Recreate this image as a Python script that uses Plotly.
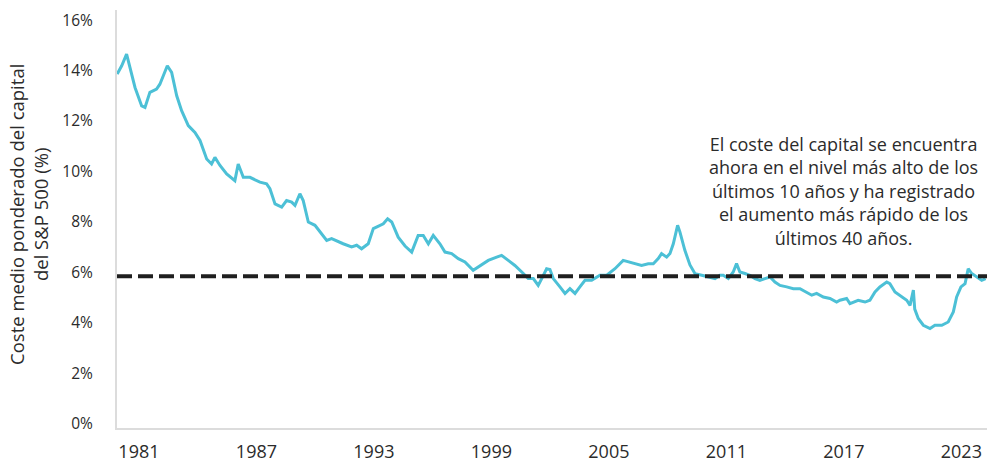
import plotly.graph_objects as go

# decimal year and weighted average cost of capital (%)
years = [
    1979.89, 1980.12, 1980.37, 1980.54, 1980.80, 1981.14, 1981.31, 1981.56, 1981.90, 1982.07,
    1982.45, 1982.67, 1982.93, 1983.18, 1983.52, 1983.86, 1984.12, 1984.46, 1984.71, 1984.88,
    1985.14, 1985.48, 1985.90, 1986.07, 1986.33, 1986.67, 1987.18, 1987.52, 1987.69, 1987.95,
    1988.29, 1988.54, 1988.80, 1988.97, 1989.22, 1989.39, 1989.65, 1989.99, 1990.33, 1990.59,
    1990.84, 1991.18, 1991.43, 1991.86, 1992.12, 1992.37, 1992.71, 1992.97, 1993.31, 1993.48,
    1993.70, 1993.91, 1994.24, 1994.59, 1994.93, 1995.26, 1995.52, 1995.78, 1996.03, 1996.37,
    1996.63, 1996.97, 1997.31, 1997.65, 1998.07, 1998.42, 1998.84, 1999.27, 1999.52, 1999.86,
    2000.20, 2000.63, 2000.88, 2001.14, 2001.39, 2001.57, 2001.82, 2001.99, 2002.16, 2002.50,
    2002.76, 2003.01, 2003.27, 2003.52, 2003.78, 2004.12, 2004.54, 2004.89, 2005.31, 2005.73,
    2005.99, 2006.24, 2006.67, 2007.01, 2007.27, 2007.52, 2007.69, 2007.95, 2008.12, 2008.29,
    2008.51, 2008.63, 2008.88, 2009.14, 2009.40, 2009.74, 2010.07, 2010.42, 2010.67, 2010.84,
    2011.10, 2011.35, 2011.52, 2011.69, 2011.95, 2012.20, 2012.46, 2012.71, 2012.97, 2013.23,
    2013.48, 2013.74, 2014.08, 2014.42, 2014.76, 2015.10, 2015.36, 2015.61, 2015.95, 2016.29,
    2016.63, 2016.80, 2017.14, 2017.31, 2017.48, 2017.73, 2018.08, 2018.33, 2018.59, 2018.84,
    2019.19, 2019.35, 2019.61, 2019.95, 2020.21, 2020.38, 2020.55, 2020.62, 2020.80, 2021.06,
    2021.40, 2021.65, 2022.00, 2022.33, 2022.59, 2022.76, 2022.98, 2023.19, 2023.35, 2023.53,
    2023.78, 2024.04, 2024.24,
]
wacc = [
    13.86, 14.19, 14.65, 14.12, 13.33, 12.60, 12.54, 13.14, 13.27, 13.46,
    14.19, 13.93, 13.00, 12.41, 11.82, 11.55, 11.23, 10.50, 10.30, 10.56,
    10.24, 9.91, 9.64, 10.30, 9.77, 9.77, 9.58, 9.51, 9.32, 8.72,
    8.59, 8.85, 8.79, 8.66, 9.12, 8.85, 8.00, 7.87, 7.54, 7.27,
    7.34, 7.21, 7.14, 7.01, 7.08, 6.94, 7.14, 7.74, 7.87, 7.93,
    8.13, 8.00, 7.40, 7.05, 6.81, 7.47, 7.47, 7.14, 7.47, 7.14,
    6.81, 6.75, 6.55, 6.42, 6.09, 6.28, 6.48, 6.61, 6.68, 6.48,
    6.28, 5.96, 5.76, 5.76, 5.49, 5.76, 6.15, 6.12, 5.76, 5.43,
    5.17, 5.36, 5.17, 5.43, 5.69, 5.69, 5.89, 5.89, 6.15, 6.48,
    6.42, 6.35, 6.28, 6.35, 6.35, 6.55, 6.75, 6.61, 6.75, 7.14,
    7.87, 7.60, 6.88, 6.30, 5.95, 5.89, 5.82, 5.76, 5.89, 5.89,
    5.76, 6.02, 6.35, 6.02, 5.96, 5.89, 5.76, 5.69, 5.76, 5.82,
    5.62, 5.49, 5.43, 5.36, 5.36, 5.23, 5.10, 5.17, 5.03, 4.97,
    4.83, 4.90, 4.97, 4.77, 4.83, 4.90, 4.83, 4.90, 5.23, 5.43,
    5.62, 5.56, 5.23, 5.03, 4.90, 4.70, 5.30, 4.55, 4.18, 3.91,
    3.78, 3.91, 3.91, 4.04, 4.44, 5.03, 5.43, 5.56, 6.15, 5.96,
    5.82, 5.69, 5.76,
]
avg_wacc = 5.85

x_ticks = [1981, 1987, 1993, 1999, 2005, 2011, 2017, 2023]
y_ticks = [0, 2, 4, 6, 8, 10, 12, 14, 16]
y_ticklabels = [f"{v}%" for v in y_ticks]

note = ("El coste del capital se encuentra<br>ahora en el nivel más alto de los<br>"
        "últimos 10 años y ha registrado<br>el aumento más rápido de los<br>últimos 40 años.")

fig = go.Figure()
fig.add_trace(go.Scatter(
    x=years, y=wacc, mode='lines',
    line=dict(color='#4cc0d6', width=3),
    showlegend=False
))
fig.add_hline(y=avg_wacc, line=dict(color='#1f1f1f', width=4, dash='15px,6px'))

fig.add_annotation(
    text=note, xref='paper', yref='paper', x=0.835, y=0.567,
    showarrow=False, align='center', xanchor='center', yanchor='middle',
    font=dict(size=18, color='#2b2b2b')
)
fig.add_annotation(
    text="Coste medio ponderado del capital<br>del S&P 500 (%)",
    xref='paper', yref='paper', x=-0.101, y=0.51, textangle=-90,
    showarrow=False, align='center', xanchor='center', yanchor='middle',
    font=dict(size=18.5, color='#2b2b2b')
)

fig.update_layout(
    width=987, height=462,
    margin=dict(l=117, r=0, t=10, b=34),
    paper_bgcolor='white', plot_bgcolor='white',
    font=dict(family='Open Sans', color='#2b2b2b'),
    xaxis=dict(
        range=[1979.88, 2024.31], tickvals=x_ticks, showgrid=False, zeroline=False,
        showline=True, linecolor='#dcdcdc', linewidth=2,
        ticks='', ticklabelstandoff=6, tickfont=dict(size=18)
    ),
    yaxis=dict(
        range=[-0.16, 16.4], tickvals=y_ticks, ticktext=y_ticklabels,
        showgrid=False, zeroline=False, showline=True, linecolor='#dcdcdc', linewidth=2,
        ticks='', ticklabelstandoff=19, tickfont=dict(size=15.5)
    ),
)

fig.write_html("out.html", config={'displayModeBar': False},
               post_script="document.body.style.margin='0px';")
